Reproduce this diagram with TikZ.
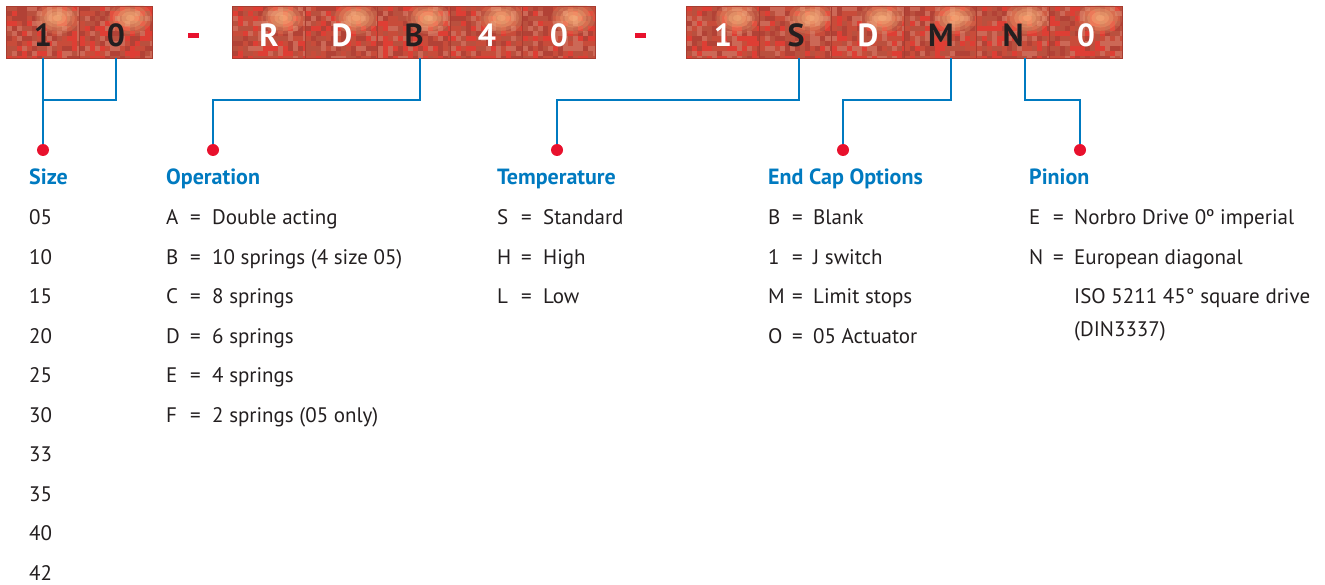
\documentclass[tikz,border=0pt]{standalone}
\usepackage{fontspec}
\setmainfont{PT Sans}
\usetikzlibrary{calc}

\definecolor{codeblue}{RGB}{0,122,192}
\definecolor{dotred}{RGB}{232,17,45}
\definecolor{ink}{RGB}{35,31,32}
\definecolor{tilebase}{RGB}{200,76,58}
\definecolor{tileedge}{RGB}{168,60,48}
\definecolor{tileA}{RGB}{222,62,52}
\definecolor{tileB}{RGB}{186,80,62}
\definecolor{tileC}{RGB}{204,104,86}
\definecolor{tileD}{RGB}{178,66,54}
\definecolor{glow}{RGB}{252,184,128}

\pgfmathsetseed{11}

\begin{document}
\begin{tikzpicture}[x=1pt,y=-1pt]
    \tikzstyle{tile}=[rectangle, minimum width=72.5pt, minimum height=52pt, inner sep=0pt,
        draw=tileedge, line width=0.8pt, fill=tilebase, text height=28.5pt, text depth=0pt,
        font=\fontsize{32}{32}\selectfont\bfseries,
        path picture={
            \foreach \i in {0,...,14} \foreach \j in {0,...,10} {
                \pgfmathrandominteger{\m}{0}{4}
                \ifcase\m \def\cc{tileA}\or\def\cc{tileB}\or\def\cc{tileC}\or\def\cc{tileD}\else\def\cc{tilebase}\fi
                \fill[\cc] ([xshift=\i*5pt,yshift=-\j*5pt]path picture bounding box.north west) rectangle ++(5pt,-5pt);
            }
            \foreach \rr/\op in {20/0.15, 16/0.2, 12/0.25, 8/0.3, 4/0.35}
                \fill[glow, opacity=\op] ([xshift=-22pt,yshift=-12pt]path picture bounding box.north east)
                    ellipse ({\rr*1.1pt} and {\rr*0.8pt});
        }]
    \tikzstyle{hyphenbar}=[rectangle, fill=dotred, minimum width=11pt, minimum height=5pt, inner sep=0pt]
    \tikzstyle{dot}=[circle, fill=dotred, inner sep=0pt, minimum size=12pt]
    \tikzstyle{link}=[codeblue, line width=2.2pt]
    \tikzstyle{head}=[anchor=base west, inner sep=0pt, text=codeblue, font=\fontsize{22}{22}\selectfont\bfseries]
    \tikzstyle{item}=[anchor=base west, inner sep=0pt, text=ink, font=\fontsize{21}{21}\selectfont]

    \useasboundingbox (0,0) rectangle (1325,585);

    % code boxes
    \foreach \c/\x/\col [count=\i] in {1/43/ink, 0/116/ink, R/269/white, D/342/white, B/414/ink,
        4/487/white, 0/559/white, 1/723/white, S/796/ink, D/868/white, M/941/ink, N/1013/ink, 0/1086/white}
        \node[tile, text=\col] (b\i) at (\x,32) {\c};
    \node[hyphenbar] (dash1) at (193.5,35.5) {};
    \node[hyphenbar] (dash2) at (640,35.5) {};

    % dots
    \node[dot] (size) at (43,150) {};
    \node[dot] (op) at (213,150) {};
    \node[dot] (temp) at (557,150) {};
    \node[dot] (cap) at (843,150) {};
    \node[dot] (pin) at (1080,150) {};

    % connectors
    \draw[link] (b1.south) -- (size);
    \draw[link] (b2.south) -- ++(0,42) -| (size);
    \draw[link] ([xshift=6pt]b5.south) -- ++(0,42) -| (op);
    \draw[link] ([xshift=3pt]b9.south) -- ++(0,42) -| (temp);
    \draw[link] ([xshift=10pt]b11.south) -- ++(0,42) -| (cap);
    \draw[link] ([xshift=12pt]b12.south) -- ++(0,42) -| (pin);

    % headings
    \node[head] (hsize) at (29,185) {Size};
    \node[head] (hop) at (166,185) {Operation};
    \node[head] (htemp) at (497,185) {Temperature};
    \node[head] (hcap) at (768,185) {End Cap Options};
    \node[head] (hpin) at (1029,185) {Pinion};

    % lists
    \foreach \s [count=\r] in {05,10,15,20,25,30,33,35,40,42}
        \node[item] (sz\r) at (29,{225+39.45*(\r-1)}) {\s};
    \foreach \k/\t [count=\r] in {A/Double acting, B/10 springs (4 size 05), C/8 springs,
        D/6 springs, E/4 springs, F/2 springs (05 only)} {
        \node[item] (opk\r) at (166,{225+39.45*(\r-1)}) {\k};
        \node[item] (ope\r) at (190,{225+39.45*(\r-1)}) {=};
        \node[item] (opt\r) at (212,{225+39.45*(\r-1)}) {\t};
    }
    \foreach \k/\t [count=\r] in {S/Standard, H/High, L/Low} {
        \node[item] (tpk\r) at (497,{225+39.45*(\r-1)}) {\k};
        \node[item] (tpe\r) at (521,{225+39.45*(\r-1)}) {=};
        \node[item] (tpt\r) at (543,{225+39.45*(\r-1)}) {\t};
    }
    \foreach \k/\t [count=\r] in {B/Blank, 1/J switch, M/Limit stops, O/05 Actuator} {
        \node[item] (eck\r) at (768,{225+39.45*(\r-1)}) {\k};
        \node[item] (ece\r) at (792,{225+39.45*(\r-1)}) {=};
        \node[item] (ect\r) at (813,{225+39.45*(\r-1)}) {\t};
    }
    \foreach \k/\t [count=\r] in {E/Norbro Drive 0º imperial, N/European diagonal} {
        \node[item] (pnk\r) at (1029,{225+39.45*(\r-1)}) {\k};
        \node[item] (pne\r) at (1053,{225+39.45*(\r-1)}) {=};
        \node[item] (pnt\r) at (1074,{225+39.45*(\r-1)}) {\t};
    }
    \node[item] (pniso) at (1074,304) {ISO 5211 45° square drive};
    \node[item] (pndin) at (1074,336) {(DIN3337)};
\end{tikzpicture}
\end{document}
